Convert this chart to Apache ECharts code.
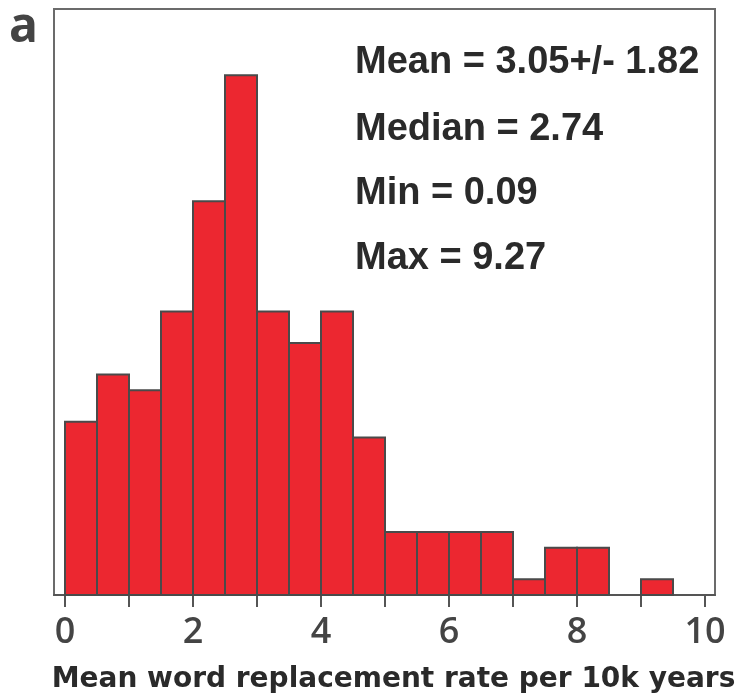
<!DOCTYPE html>
<html>
<head>
<meta charset="utf-8">
<script src="https://cdn.jsdelivr.net/npm/echarts@6/dist/echarts.min.js"></script>
<style>html,body{margin:0;padding:0;background:#fff;}#chart{width:744px;height:700px;}</style>
</head>
<body>
<div id="chart"></div>
<script>
// Histogram data (bin starts, counts), bin width
const binStarts = [0, 0.5, 1, 1.5, 2, 2.5, 3, 3.5, 4, 4.5, 5, 5.5, 6, 6.5, 7, 7.5, 8, 8.5, 9];
const counts    = [11, 14, 13, 18, 25, 33, 18, 16, 18, 10, 4, 4, 4, 4, 1, 3, 3, 0, 1];
const binWidth = 0.5;
const tickValues = [0, 1, 2, 3, 4, 5, 6, 7, 8, 9, 10];
const labelValues = [0, 2, 4, 6, 8, 10];
const statsLines = ['Mean = 3.05+/- 1.82', 'Median = 2.74', 'Min = 0.09', 'Max = 9.27'];
const xTitle = 'Mean word replacement rate per 10k years';
const panelLabel = 'a';

const chart = echarts.init(document.getElementById('chart'), null, {renderer: 'canvas'});
const statsTops = [44, 111, 175, 240];
const option = {
  animation: false,
  backgroundColor: '#ffffff',
  grid: {
    left: 54, top: 9, right: 29, bottom: 105,
    show: true, borderColor: '#6b6b6b', borderWidth: 2,
    outerBoundsMode: 'none'
  },
  xAxis: {
    type: 'value',
    min: -11 / 64,
    max: 10 + 10 / 64,
    splitLine: {show: false},
    axisLine: {show: true, lineStyle: {color: '#555', width: 2}},
    axisTick: {show: true, customValues: tickValues, length: 12, inside: false, lineStyle: {color: '#555', width: 2}},
    axisLabel: {customValues: labelValues, fontSize: 36, fontWeight: 600, fontFamily: 'Open Sans', color: '#444', margin: 20},
    name: xTitle,
    nameLocation: 'middle',
    nameGap: 71,
    nameTextStyle: {fontFamily: 'DejaVu Sans', fontWeight: 'bold', fontSize: 28, color: '#2a2a2a', padding: [0, 0, 0, 18]}
  },
  yAxis: {
    type: 'value', min: 0, max: 37.2, show: false, splitLine: {show: false}
  },
  series: [{
    type: 'custom',
    data: binStarts.map((s, i) => [s, s + binWidth, counts[i]]),
    encode: {x: [0, 1], y: 2},
    renderItem: function (params, api) {
      const c = api.value(2);
      if (!c) return null;
      const p0 = api.coord([api.value(0), 0]);
      const p1 = api.coord([api.value(1), c]);
      return {
        type: 'rect',
        shape: {x: p0[0], y: p1[1], width: p1[0] - p0[0], height: p0[1] - p1[1]},
        style: {fill: '#ec2730', stroke: '#4a4a4a', lineWidth: 2}
      };
    }
  }],
  graphic: [
    {type: 'text', left: 9, top: 4, style: {text: panelLabel, font: 'bold 48px "Open Sans"', fill: '#444'}}
  ].concat(statsLines.map((t, i) => ({
    type: 'text', left: 355, top: statsTops[i],
    style: {text: t, font: 'bold 38px "Liberation Sans"', fill: '#2a2a2a'}
  })))
};
chart.setOption(option);
</script>
</body>
</html>
